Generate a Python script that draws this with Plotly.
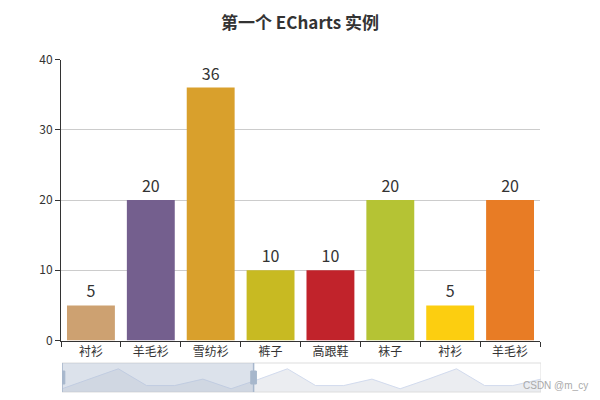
import plotly.graph_objects as go

title_text = "第一个 ECharts 实例"
categories = ["衬衫", "羊毛衫", "雪纺衫", "裤子", "高跟鞋", "袜子"] * 3
values = [5, 20, 36, 10, 10, 20] * 3
bar_colors = ["#CDA171", "#745F8E", "#D9A02C", "#C8BA22", "#C1232B", "#B5C334",
              "#FCCE10", "#E87C25"] * 3
y_ticks = [0, 10, 20, 30, 40]
zoom_start_pct = 0
zoom_end_pct = 40
visible_count = 8
watermark = "CSDN @m_cy"

FONT = "Noto Sans CJK SC, Microsoft YaHei, sans-serif"
n = len(values)
xs = list(range(n))

# page body has an 8px margin: figure is sized so it fits the 600x400 view
OFF = 8
W, H = 600 - OFF, 400 - OFF


def px(x):
    return (x - OFF) / W


def py(y):
    return 1 - (y - OFF) / H


fig = go.Figure()

fig.add_trace(go.Bar(
    x=xs, y=values, width=0.8,
    marker=dict(color=bar_colors[:n], line=dict(width=0)),
    text=[str(v) for v in values], textposition="outside",
    textfont=dict(size=16, color="#333", family=FONT),
    cliponaxis=False, xaxis="x", yaxis="y", hoverinfo="skip",
))

# data shadow for slider
fig.add_trace(go.Scatter(
    x=xs, y=values, mode="lines", fill="tozeroy",
    line=dict(color="#d2dbee", width=1), fillcolor="rgba(210,215,225,0.45)",
    xaxis="x2", yaxis="y2", hoverinfo="skip",
))

xd = [px(61), px(540)]
fig.update_layout(
    width=W, height=H,
    margin=dict(l=0, r=0, t=0, b=0, autoexpand=False),
    paper_bgcolor="white", plot_bgcolor="white",
    showlegend=False,
    font=dict(family=FONT, color="#333"),
    xaxis=dict(domain=xd, range=[-0.5, visible_count - 0.5], automargin=False,
               tickvals=xs[:visible_count], ticktext=categories[:visible_count],
               ticks="", showgrid=False, zeroline=False,
               showline=True, linecolor="#333", linewidth=1,
               tickfont=dict(size=12, color="#333", family=FONT),
               minor=dict(tickvals=[i - 0.5 for i in range(visible_count + 1)],
                          ticks="outside", ticklen=5, tickcolor="#333", showgrid=False)),
    yaxis=dict(domain=[py(340.5), py(59.5)], range=[0, 40], automargin=False,
               tickvals=y_ticks, ticks="outside", ticklen=5, tickcolor="#333",
               showline=True, linecolor="#333", linewidth=1,
               showgrid=True, gridcolor="#ccc", zeroline=False,
               tickfont=dict(size=12, color="#333", family=FONT)),
    xaxis2=dict(domain=[px(62), px(541)], range=[0, n - 1], visible=False, anchor="y2"),
    yaxis2=dict(domain=[py(392), py(363)], range=[0, 45], visible=False,
                anchor="x2"),
)

fig.add_annotation(text="<b>" + title_text + "</b>", xref="paper", yref="paper",
                   x=px(300), y=py(22), xanchor="center", yanchor="middle",
                   borderpad=0, showarrow=False,
                   font=dict(size=17, color="#333", family=FONT))

sel_end = (n - 1) * zoom_end_pct / 100
sel_start = (n - 1) * zoom_start_pct / 100
# slider border
fig.add_shape(type="rect", xref="x2", yref="paper", x0=0, x1=n - 1,
              y0=py(392), y1=py(363),
              line=dict(color="#ddd", width=1), fillcolor="rgba(0,0,0,0)")
# selected window
fig.add_shape(type="rect", xref="x2", yref="paper", x0=sel_start, x1=sel_end,
              y0=py(392), y1=py(363),
              line=dict(width=0), fillcolor="rgba(167,183,204,0.4)")
for hx in (sel_start, sel_end):
    fig.add_shape(type="line", xref="x2", yref="paper", x0=hx, x1=hx,
                  y0=py(392), y1=py(363),
                  line=dict(color="#a7b7cc", width=1.5))
    fig.add_shape(type="rect", xref="x2", yref="paper",
                  x0=hx - 0.1, x1=hx + 0.1,
                  y0=py(384), y1=py(371),
                  line=dict(color="#a7b7cc", width=1), fillcolor="#a7b7cc")

fig.add_annotation(text=watermark, xref="paper", yref="paper",
                   x=px(590), y=py(385), xanchor="right", yanchor="middle",
                   showarrow=False, font=dict(size=10, color="#aaa", family="Liberation Sans"))

fig.write_html("out.html")
